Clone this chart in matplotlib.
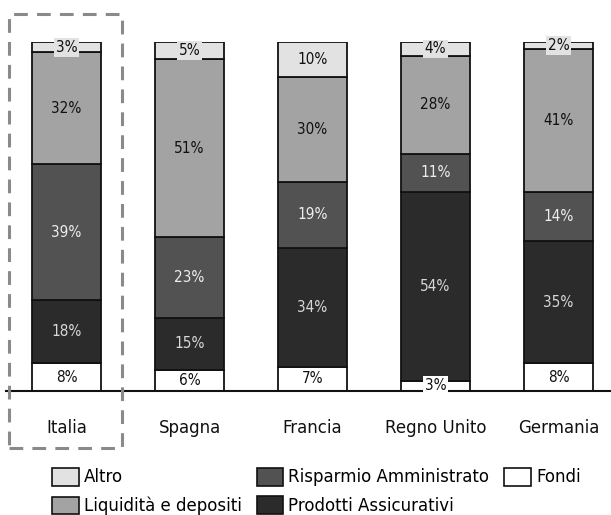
import numpy as np
import matplotlib
matplotlib.use("Agg")
import matplotlib.pyplot as plt
from matplotlib.patches import Rectangle, Patch

countries = ["Italia", "Spagna", "Francia", "Regno Unito", "Germania"]
series = ["Fondi", "Prodotti Assicurativi", "Risparmio Amministrato",
          "Liquidità e depositi", "Altro"]
fondi = [8, 6, 7, 3, 8]
prodotti = [18, 15, 34, 54, 35]
risparmio = [39, 23, 19, 11, 14]
liquidita = [32, 51, 30, 28, 41]
altro = [3, 5, 10, 4, 2]

colors = ["#ffffff", "#2b2b2b", "#525252", "#a3a3a3", "#e2e2e2"]
txtcol = ["#111111", "#d8d8d8", "#eeeeee", "#111111", "#111111"]

W, H = 611, 515
fig = plt.figure(figsize=(W / 100, H / 100), dpi=100)
# axes: x in pixels 0..611, y 0..100 maps to px 391..42
ax = fig.add_axes([0, (H - 391) / H, 1, 349 / H])
step = 123.0
x0 = 66.5
ax.set_xlim(-x0 / step, (W - x0) / step)
ax.set_ylim(0, 100)
ax.axis("off")

x = np.arange(len(countries))
data = [fondi, prodotti, risparmio, liquidita, altro]
bottom = np.zeros(len(countries))
pfont = dict(family="DejaVu Sans", fontstretch="condensed", fontsize=11)
for k, vals in enumerate(data):
    vals = np.array(vals, dtype=float)
    ax.bar(x, vals, bottom=bottom, width=69 / step, color=colors[k],
           edgecolor="#111111", linewidth=1.3, zorder=2)
    for i, v in enumerate(vals):
        yc = bottom[i] + v / 2
        bb = None
        if v <= 5:
            bb = dict(boxstyle="square,pad=0.12", fc=colors[k], ec="none")
        ax.text(x[i], yc, f"{int(v)}%", ha="center", va="center",
                color=txtcol[k], bbox=bb, zorder=4, **pfont)
    bottom += vals

ax.plot([6 / step - x0 / step, (W - x0) / step], [0, 0], color="#111111",
        lw=1.5, clip_on=False, zorder=3)

for i, c in enumerate(countries):
    ax.text(x[i], -(428 - 391) / 349 * 100, c, ha="center", va="center",
            fontsize=12, color="#111111", clip_on=False)

# dashed highlight around Italia
fig.add_artist(Rectangle((9 / W, (H - 448) / H), 113 / W, 434 / H,
                         transform=fig.transFigure, fill=False,
                         edgecolor="#8a8a8a", linewidth=2.2,
                         linestyle=(0, (4.5, 3))))

order = [4, 3, 2, 1, 0]
handles = [Patch(facecolor=colors[k], edgecolor="#111111", linewidth=1.2,
                 label=series[k]) for k in order]
fig.legend(handles=handles, ncol=3, loc="upper left",
           bbox_to_anchor=(52 / W, (H - 468) / H), frameon=False,
           fontsize=12, handlelength=1.6, handleheight=1.25,
           handletextpad=0.3, columnspacing=0.9, labelspacing=0.6,
           borderpad=0, borderaxespad=0)

fig.savefig("out.png", dpi=100)
